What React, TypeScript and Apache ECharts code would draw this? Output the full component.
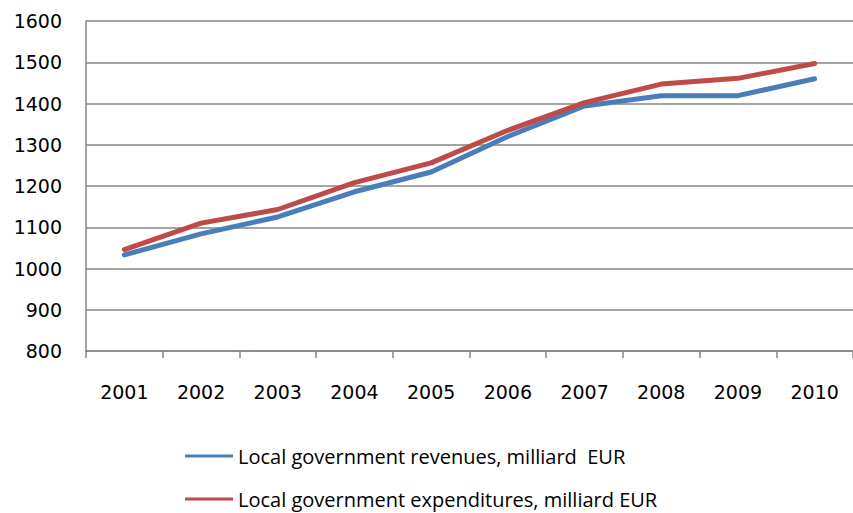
import React, { useEffect, useRef } from "react";
import * as echarts from "echarts";

const years = ["2001", "2002", "2003", "2004", "2005", "2006", "2007", "2008", "2009", "2010"];
const revenues = [1033, 1084, 1125, 1186, 1234, 1320, 1394, 1419, 1419, 1460];
const expenditures = [1046, 1110, 1143, 1208, 1256, 1335, 1402, 1447, 1461, 1497];
const revenuesName = "Local government revenues, milliard  EUR";
const expendituresName = "Local government expenditures, milliard EUR";

const AXIS_FONT = "DejaVu Sans";
const LEGEND_FONT = "Open Sans";
const BLUE = "#4A7EBB";
const RED = "#BE4B48";

export default function App() {
  const ref = useRef<HTMLDivElement>(null);
  useEffect(() => {
    if (!ref.current) return;
    const chart = echarts.init(ref.current, null, { renderer: "svg" });
    const legendBase = {
      orient: "horizontal",
      left: 180,
      itemWidth: 48,
      itemHeight: 3,
      itemGap: 6,
      icon: "rect",
      textStyle: { fontFamily: LEGEND_FONT, fontSize: 20, color: "#000" },
    };
    chart.setOption({
      animation: false,
      backgroundColor: "#ffffff",
      grid: { left: 86, top: 21, width: 770, height: 330, containLabel: false },
      legend: [
        { ...legendBase, top: 441, data: [{ name: revenuesName, itemStyle: { color: BLUE } }] },
        { ...legendBase, top: 484, data: [{ name: expendituresName, itemStyle: { color: RED } }] },
      ],
      xAxis: {
        type: "category",
        data: years,
        boundaryGap: true,
        axisLine: { lineStyle: { color: "#868686", width: 1.5 } },
        axisTick: { show: true, length: 7, lineStyle: { color: "#868686", width: 1.5 } },
        axisLabel: { fontFamily: AXIS_FONT, fontSize: 19, color: "#000", margin: 31 },
        splitLine: { show: false },
      },
      yAxis: {
        type: "value",
        min: 800,
        max: 1600,
        interval: 100,
        axisLine: { show: true, lineStyle: { color: "#868686", width: 1.5 } },
        axisTick: { show: false },
        axisLabel: {
          fontFamily: AXIS_FONT,
          fontSize: 19,
          color: "#000",
          margin: 24,
          formatter: (v: number) => String(v),
        },
        splitLine: { show: true, lineStyle: { color: "#868686", width: 1.5 } },
      },
      series: [
        {
          name: revenuesName,
          type: "line",
          data: revenues,
          symbol: "none",
          color: BLUE,
          lineStyle: { color: BLUE, width: 5, cap: "round", join: "round" },
        },
        {
          name: expendituresName,
          type: "line",
          data: expenditures,
          symbol: "none",
          color: RED,
          lineStyle: { color: RED, width: 5, cap: "round", join: "round" },
        },
      ],
    });
    return () => chart.dispose();
  }, []);
  return <div ref={ref} style={{ width: 853, height: 513, position: "fixed", left: 0, top: 0 }} />;
}
